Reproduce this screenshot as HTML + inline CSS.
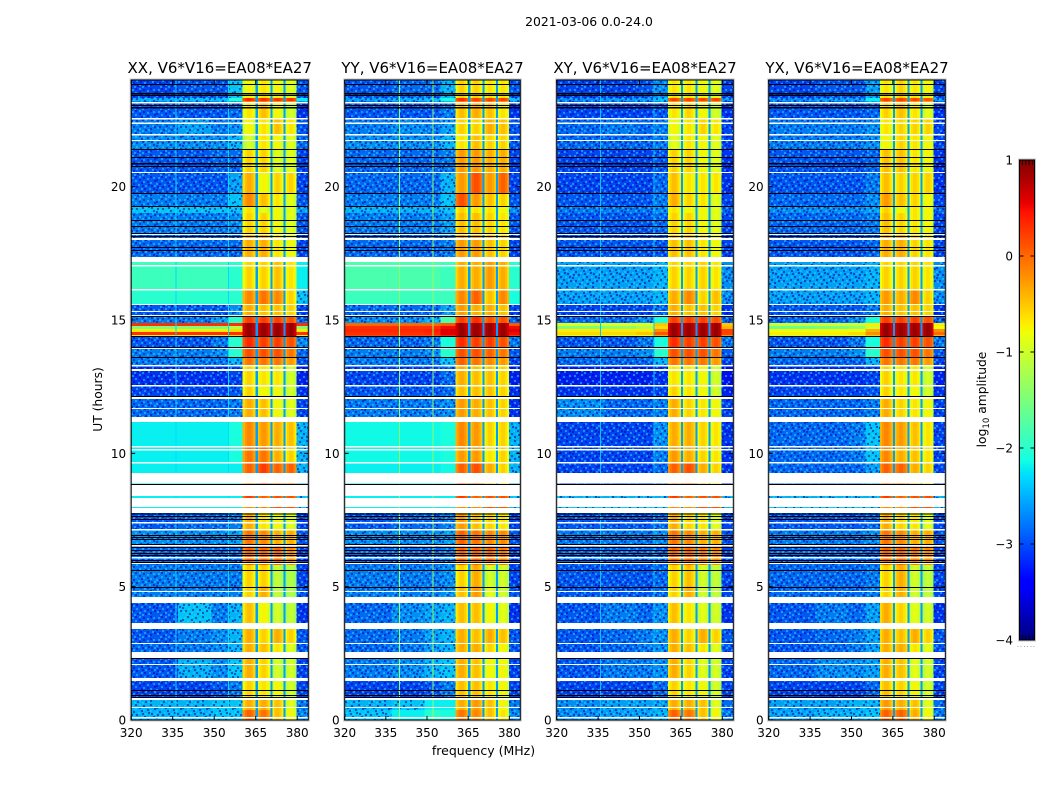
<!DOCTYPE html>
<html lang="en">
<head>
<meta charset="utf-8">
<title>2021-03-06 0.0-24.0</title>
<style>
html,body{margin:0;padding:0;background:#fff;width:1050px;height:800px;overflow:hidden}
svg{display:block}
text{font-family:"DejaVu Sans","Liberation Sans",sans-serif;fill:#000}
</style>
</head>
<body>
<svg id="figure" xmlns="http://www.w3.org/2000/svg" width="1050" height="800" viewBox="0 0 1050 800">
  <defs>
    <pattern id="noise-tile" patternUnits="userSpaceOnUse" width="26" height="22">
      <rect x="0" y="0" width="26" height="22" fill="#000078" fill-opacity="0.1"/>
      <path fill="#28d2ff" fill-opacity="0.55" d="M2 1h2v2h-2z M9 0h2v2h-2z M17 2h2v2h-2z M23 1h2v2h-2z M5 4h2v2h-2z M13 5h2v2h-2z M20 6h2v2h-2z M0 7h2v2h-2z M8 8h2v2h-2z M15 9h2v2h-2z M24 9h2v2h-2z M3 11h2v2h-2z M11 12h2v2h-2z M19 12h2v2h-2z M6 14h2v2h-2z M22 15h2v2h-2z M14 16h2v2h-2z M1 17h2v2h-2z M9 18h2v2h-2z M18 19h2v2h-2z M4 20h2v2h-2z M12 20h2v2h-2z"/>
      <path fill="#0000be" fill-opacity="0.55" d="M5 0h2v2h-2z M13 1h2v2h-2z M20 0h2v2h-2z M0 3h2v2h-2z M9 3h2v2h-2z M17 5h2v2h-2z M24 4h2v2h-2z M3 7h2v2h-2z M11 6h2v2h-2z M21 9h2v2h-2z M6 10h2v2h-2z M14 12h2v2h-2z M0 13h2v2h-2z M23 12h2v2h-2z M10 15h2v2h-2z M17 15h2v2h-2z M3 16h2v2h-2z M20 18h2v2h-2z M7 19h2v2h-2z M15 19h2v2h-2z M24 16h2v2h-2z M12 9h2v2h-2z M1 10h2v2h-2z M18 8h2v2h-2z"/>
    </pattern>
  </defs>
  <rect x="0" y="0" width="1050" height="800" fill="#fff"/>
  <text x="589" y="26" font-size="12.4" text-anchor="middle">2021-03-06 0.0-24.0</text>
  <text x="483.5" y="755" font-size="12.5" text-anchor="middle">frequency (MHz)</text>
  <text x="0" y="0" font-size="12.3" text-anchor="middle" transform="translate(102,399.5) rotate(-90)">UT (hours)</text>
  <text x="0" y="0" font-size="12.3" text-anchor="middle" transform="translate(986,399.5) rotate(-90)">log<tspan font-size="8.6" dy="3">10</tspan><tspan dy="-3"> amplitude</tspan></text>
  <g id="panels"></g>
  <g id="colorbar"></g>
</svg>
<script>
// Time band edges in UT hours, top to bottom
const bandEdges = [24,23.32,23.2,22.57,21.97,21.41,20.55,19.76,19.27,19.01,18.26,17.17,16.16,15.6,15.15,14.88,14.77,14.66,14.55,14.44,14.36,13.99,13.61,13.31,12.56,12.11,11.17,10.27,9.67,8.4,7.99,7.76,7.12,6.56,5.81,5.02,4.39,3.64,2.89,2.32,1.57,0.75,0.37,0];

// Frequency regions in MHz
const lowEdges = [320,337,349,355,360.3];
const windowEdges = [[360.3,365],[365.6,370.3],[370.8,375.1],[375.6,379.8]];
const highEdges = [379.8,384];
const gapEdges = [[365,365.6],[370.3,370.8],[375.1,375.6]];

// Band-pass shape across a spectral window (log10 offset per channel)
const windowShape = [-0.3,-0.15,-0.05,-0.05,-0.15,-0.3];

// Axis ticks and limits
const freqTicks = [320,335,350,365,380];
const timeTicks = [0,5,10,15,20];
const colorTicks = [1,0,-1,-2,-3,-4];
const colorMin = -4;
const colorMax = 1;

// Flagged time ranges, hours
const whiteBands = [[23.17,23.12],[18.26,18.19],[18.07,18.0],[17.36,17.17],[13.16,13.09],[12.13,12.04],[11.36,11.17],[9.26,8.87],[8.81,8.4],[8.32,7.99],[7.95,7.76],[4.57,4.39],[3.64,3.41],[2.55,2.32],[1.57,1.46],[0.86,0.75]];
const whiteLines = [22.57,22.4,21.97,21.75,20.55,18.75,17.06,16.16,15.6,15.34,15.19,13.95,13.31,12.56,11.7,10.27,10.16,9.67,7.42,7.16,6.56,6.11,5.89,4.84,4.61,2.89,2.1,0.49,0.11];
const blackLines = [23.85,23.51,23.45,23.06,22.98,21.41,21.11,20.88,20.77,19.76,19.27,18.75,18.52,18.26,18.15,17.74,17.62,15.15,14.4,13.99,13.61,12.15,8.85,7.74,7.65,7.54,6.94,6.86,6.79,6.6,6.49,6.37,6.26,6.19,6.0,5.92,5.62,4.99,2.32,1.12,0.94,0.86];

// Band values: 320-337, 337-349, 349-355, 355-360, window 1-4, 380-384 (log10 amplitude)
const valuesXX = [
[-3.0,-2.9,-2.9,-2.3,-.7,-.6,-.7,-.8,-2.9],
[-2.4,-2.3,-2.3,-2.0,.45,.4,.4,.4,-2.2],
[-2.9,-2.9,-2.9,-2.8,-.6,-.4,-.7,-.9,-3.1],
[-2.7,-2.5,-2.7,-2.6,-.7,-.6,-.4,-.6,-2.9],
[-2.6,-2.6,-2.6,-2.4,-.9,-.6,-.7,-.8,-2.8],
[-2.9,-2.9,-2.8,-2.8,-.5,-.5,-.8,-.8,-3.0],
[-2.9,-2.9,-2.9,-2.5,-.3,-.7,-.5,-.5,-3.0],
[-2.7,-2.7,-2.7,-2.3,-.1,-.4,-.6,-.8,-2.9],
[-2.3,-2.3,-2.3,-2.3,-.6,-.8,-.7,-.8,-2.5],
[-2.7,-2.7,-2.7,-2.6,-.5,-.5,-.7,-.8,-2.9],
[-2.8,-2.8,-2.8,-2.8,-.3,-.3,-.6,-.7,-3.0],
[-1.9,-1.9,-1.9,-2.0,-.5,-.5,-.4,-.6,-2.2],
[-2.0,-2.0,-2.0,-2.0,-.1,0,-.1,-.5,-2.3],
[-2.9,-2.9,-2.9,-2.6,-.3,-.4,-.4,-.5,-3.0],
[-2.7,-2.7,-2.5,-2.0,.3,.3,.3,.2,-2.8],
[.3,.3,.3,.3,.95,.95,.95,.95,.3],
[-1.5,-1.5,-1.5,-1.2,.95,.95,.95,.95,-1.5],
[-.7,-.7,-.7,-.6,.95,.95,.95,.95,-.7],
[.3,.3,.3,.3,.95,.95,.95,.95,.3],
[-.7,-.7,-.7,-.5,.95,.95,.95,.95,-.7],
[-2.9,-2.9,-2.7,-2.0,.4,.3,.3,.2,-2.6],
[-2.7,-2.7,-2.6,-2.0,.2,.2,.2,0,-2.8],
[-2.7,-2.7,-2.7,-2.4,0,0,0,-.2,-2.9],
[-3.1,-3.1,-3.1,-3.0,-.5,-.6,-.6,-.9,-3.2],
[-3.0,-3.0,-3.0,-2.9,-.5,-.7,-.7,-.9,-3.1],
[-2.8,-2.8,-2.8,-2.7,-.3,-.4,-.7,-.8,-3.0],
[-2.2,-2.2,-2.2,-2.1,-.1,-.2,-.3,-.4,-2.4],
[-2.2,-2.2,-2.2,-2.1,0,0,-.3,-.5,-2.4],
[-2.2,-2.2,-2.2,-2.2,.1,.3,.1,.1,-2.4],
[-2.2,-2.2,-2.2,-2.2,.3,.1,.2,.2,-2.3],
[-2.2,-2.2,-2.2,-2.2,-.1,-.1,.2,.2,-2.3],
[-2.9,-2.8,-2.8,-2.7,-.3,-.6,-.7,-.8,-3.0],
[-2.6,-2.6,-2.6,-2.5,0,-.1,-.3,-.3,-2.9],
[-2.8,-2.8,-2.8,-2.8,.1,.1,.1,-.1,-3.0],
[-2.7,-2.7,-2.7,-2.7,-.5,-.5,-1,-1.1,-3.0],
[-2.7,-2.7,-2.7,-2.7,-.5,-.3,-1,-1.1,-2.9],
[-2.9,-2.3,-2.7,-2.4,-.4,-.7,-.9,-1,-3.1],
[-2.9,-2.7,-2.6,-2.4,-.3,-.5,-.3,-.5,-2.9],
[-2.8,-2.7,-2.6,-2.4,-.3,-.4,-.6,-.8,-2.9],
[-2.9,-2.4,-2.6,-2.3,-.3,-.5,-.9,-.9,-3.0],
[-3.0,-3.0,-2.9,-2.7,-.5,-.6,-.7,-.9,-3.0],
[-2.4,-2.4,-2.3,-2.3,-.3,-.3,-.4,-.8,-2.7],
[-2.4,-2.4,-2.3,-2.3,.1,0,-.4,-.7,-2.6]
];
const valuesYY = [
[-2.9,-2.8,-2.8,-2.4,-.5,-.5,-.6,-.6,-2.9],
[-2.5,-2.4,-2.3,-2.1,.4,.3,.3,.3,-2.3],
[-2.9,-2.9,-2.9,-2.7,-.4,-.3,-.4,-.6,-3.1],
[-2.7,-2.6,-2.7,-2.5,-.5,-.5,-.3,-.4,-2.9],
[-2.6,-2.6,-2.6,-2.4,-.6,-.4,-.5,-.5,-2.9],
[-2.8,-2.8,-2.8,-2.7,-.2,-.2,-.3,-.3,-3.0],
[-2.8,-2.8,-2.8,-2.4,-.2,.2,-.2,.1,-3.0],
[-2.7,-2.7,-2.7,-2.3,.2,-.2,-.4,-.5,-2.9],
[-2.4,-2.4,-2.4,-2.3,-.5,-.6,-.6,-.7,-2.6],
[-2.7,-2.7,-2.7,-2.5,-.4,-.4,-.5,-.6,-2.9],
[-2.8,-2.8,-2.8,-2.7,-.2,-.2,-.4,-.5,-3.0],
[-1.8,-1.8,-1.8,-1.9,-.3,-.3,-.2,-.3,-2.0],
[-1.9,-1.9,-1.9,-1.9,-.1,.1,-.4,-.1,-2.1],
[-2.8,-2.8,-2.8,-2.5,-.2,-.3,-.3,-.4,-3.0],
[-2.6,-2.6,-2.4,-1.8,.3,.4,.2,.2,-2.8],
[0,0,0,.1,.95,.95,.95,.95,.1],
[.3,.3,.3,.5,.95,.95,.95,.95,.5],
[.35,.35,.4,.6,.95,.95,.95,.95,.6],
[.3,.3,.35,.6,.95,.95,.95,.95,.5],
[.2,.2,.2,.4,.95,.95,.95,.95,.3],
[-2.8,-2.8,-2.7,-2.1,.4,.3,.3,.2,-2.7],
[-2.7,-2.7,-2.6,-2.0,.2,.2,.1,0,-2.9],
[-2.7,-2.7,-2.7,-2.3,.1,0,-.1,-.2,-3.0],
[-3.0,-3.0,-3.0,-2.8,-.3,-.4,-.4,-.5,-3.2],
[-2.9,-2.9,-2.9,-2.8,-.4,-.4,-.4,-.5,-3.1],
[-2.7,-2.7,-2.7,-2.6,-.2,-.3,-.4,-.5,-3.1],
[-2.15,-2.15,-2.15,-2.1,-.1,-.2,-.5,-.5,-2.4],
[-2.15,-2.15,-2.15,-2.1,-.2,-.2,-.6,-.5,-2.4],
[-2.2,-2.2,-2.2,-2.15,.1,.2,-.3,-.5,-2.4],
[-2.2,-2.2,-2.2,-2.2,.3,.1,.2,.2,-2.3],
[-2.2,-2.2,-2.2,-2.2,-.1,-.1,.2,.2,-2.3],
[-2.9,-2.8,-2.8,-2.7,-.2,-.4,-.5,-.6,-3.0],
[-2.6,-2.6,-2.6,-2.5,.1,0,-.1,-.1,-2.9],
[-2.8,-2.8,-2.8,-2.7,.1,.1,.1,0,-3.0],
[-2.7,-2.7,-2.7,-2.6,-.5,-.3,-.9,-.9,-3.0],
[-2.7,-2.7,-2.7,-2.6,-.4,-.2,-.8,-.9,-2.9],
[-2.8,-2.6,-2.5,-2.4,-.4,-.4,-.7,-.8,-3.1],
[-2.8,-2.7,-2.5,-2.4,-.3,-.4,-.3,-.4,-2.9],
[-2.8,-2.7,-2.5,-2.4,-.3,-.3,-.5,-.7,-2.9],
[-2.7,-2.6,-2.4,-2.3,-.3,-.4,-.7,-.7,-3.0],
[-3.0,-3.0,-2.9,-2.7,-.4,-.4,-.6,-.7,-3.0],
[-2.4,-2.3,-2.2,-2.2,-.3,-.2,-.4,-.7,-2.7],
[-2.3,-2.2,-2.0,-2.1,.0,-.1,-.4,-.6,-2.6]
];
const valuesXY = [
[-3.0,-3.0,-2.9,-2.6,-.6,-.6,-.7,-.8,-3.0],
[-2.6,-2.5,-2.5,-2.3,.3,.3,.3,.3,-2.5],
[-3.0,-3.0,-3.0,-2.9,-.6,-.5,-.7,-.9,-3.1],
[-2.8,-2.7,-2.8,-2.7,-.7,-.6,-.5,-.6,-3.0],
[-2.8,-2.8,-2.8,-2.7,-.8,-.6,-.7,-.8,-3.0],
[-3.0,-3.0,-3.0,-2.9,-.5,-.5,-.7,-.8,-3.1],
[-3.0,-3.0,-3.0,-2.8,-.4,-.6,-.6,-.6,-3.1],
[-2.9,-2.9,-2.9,-2.7,-.3,-.5,-.6,-.8,-3.0],
[-2.7,-2.7,-2.7,-2.6,-.6,-.7,-.7,-.8,-2.8],
[-2.9,-2.9,-2.9,-2.8,-.5,-.5,-.7,-.8,-3.0],
[-2.9,-2.9,-2.9,-2.9,-.4,-.4,-.6,-.7,-3.0],
[-2.5,-2.5,-2.5,-2.4,-.5,-.5,-.5,-.6,-2.6],
[-2.5,-2.5,-2.5,-2.4,-.3,-.1,-.5,-.4,-2.6],
[-3.0,-3.0,-3.0,-2.8,-.3,-.4,-.4,-.5,-3.1],
[-2.8,-2.8,-2.6,-2.1,.3,.3,.3,.2,-2.8],
[-.9,-.9,-.9,-.5,.95,.95,.95,.95,-.5],
[-1.5,-1.4,-1.2,-.6,.95,.95,.95,.95,-.4],
[-.7,-.7,-.7,-.2,.95,.95,.95,.95,.2],
[-.6,-.6,-.5,.1,.95,.95,.95,.95,.2],
[-.9,-.9,-.8,-.3,.95,.95,.95,.95,-.2],
[-2.9,-2.9,-2.7,-2.1,.4,.3,.3,.2,-2.7],
[-2.7,-2.7,-2.6,-2.0,.2,.2,.2,0,-2.9],
[-2.8,-2.8,-2.8,-2.4,0,0,0,-.2,-3.0],
[-3.2,-3.2,-3.2,-3.1,-.6,-.6,-.7,-.9,-3.3],
[-3.1,-3.1,-3.1,-3.0,-.5,-.6,-.7,-.9,-3.2],
[-2.6,-2.8,-2.8,-2.7,-.3,-.5,-.6,-.7,-3.0],
[-3.0,-3.0,-3.0,-2.6,-.3,-.3,-.5,-.6,-3.1],
[-3.0,-3.0,-3.0,-2.7,-.2,-.3,-.5,-.6,-3.1],
[-3.0,-3.0,-3.0,-2.8,.1,.2,-.3,-.5,-3.1],
[-2.4,-2.4,-2.4,-2.4,.3,.1,.2,.2,-2.4],
[-2.3,-2.3,-2.3,-2.3,-.1,-.1,.2,.2,-2.4],
[-2.9,-2.9,-2.9,-2.8,-.3,-.5,-.6,-.8,-3.0],
[-2.7,-2.7,-2.7,-2.6,0,-.1,-.3,-.3,-2.9],
[-2.8,-2.8,-2.8,-2.8,.1,.1,0,-.1,-3.0],
[-2.9,-2.9,-2.9,-2.8,-.5,-.4,-.9,-1,-3.0],
[-2.9,-2.9,-2.9,-2.8,-.5,-.3,-.9,-1,-3.0],
[-2.9,-2.7,-2.8,-2.6,-.4,-.6,-.8,-.9,-3.1],
[-2.9,-2.8,-2.7,-2.6,-.3,-.5,-.3,-.5,-2.9],
[-2.9,-2.8,-2.7,-2.6,-.3,-.4,-.6,-.8,-2.9],
[-2.9,-2.7,-2.7,-2.6,-.3,-.5,-.8,-.9,-3.0],
[-3.0,-3.0,-3.0,-2.8,-.5,-.6,-.7,-.9,-3.0],
[-2.6,-2.5,-2.5,-2.5,-.3,-.3,-.4,-.8,-2.8],
[-2.6,-2.5,-2.5,-2.4,.1,0,-.4,-.7,-2.7]
];
const valuesYX = [
[-3.0,-2.9,-2.9,-2.5,-.6,-.5,-.6,-.7,-3.0],
[-2.6,-2.5,-2.5,-2.2,.3,.3,.3,.2,-2.5],
[-2.9,-2.9,-2.9,-2.8,-.5,-.4,-.6,-.8,-3.1],
[-2.7,-2.7,-2.7,-2.6,-.6,-.5,-.5,-.5,-3.0],
[-2.7,-2.7,-2.7,-2.6,-.7,-.5,-.6,-.7,-3.0],
[-2.9,-2.9,-2.9,-2.8,-.4,-.4,-.6,-.7,-3.1],
[-2.9,-2.9,-2.9,-2.7,-.4,-.5,-.5,-.5,-3.1],
[-2.8,-2.8,-2.8,-2.6,-.2,-.4,-.5,-.7,-3.0],
[-2.6,-2.6,-2.6,-2.5,-.5,-.7,-.6,-.7,-2.8],
[-2.8,-2.8,-2.8,-2.7,-.4,-.5,-.6,-.7,-3.0],
[-2.9,-2.9,-2.9,-2.8,-.3,-.3,-.5,-.6,-3.0],
[-2.5,-2.5,-2.5,-2.4,-.5,-.5,-.5,-.6,-2.6],
[-2.5,-2.5,-2.5,-2.4,-.2,-.3,-.1,-.5,-2.6],
[-2.9,-2.9,-2.9,-2.7,-.3,-.4,-.4,-.5,-3.1],
[-2.8,-2.8,-2.6,-2.1,.3,.3,.3,.2,-2.8],
[-1.0,-1.0,-1.0,-.7,.95,.95,.95,.95,-.7],
[-1.6,-1.5,-1.4,-1.0,.95,.95,.95,.95,-.8],
[-.8,-.8,-.8,-.4,.95,.95,.95,.95,-.2],
[-.7,-.7,-.6,-.2,.95,.95,.95,.95,0],
[-1.0,-1.0,-.9,-.5,.95,.95,.95,.95,-.4],
[-2.9,-2.9,-2.7,-2.1,.4,.3,.3,.2,-2.7],
[-2.7,-2.7,-2.6,-2.0,.2,.2,.2,0,-2.9],
[-2.8,-2.8,-2.8,-2.4,0,0,0,-.2,-3.0],
[-3.1,-3.1,-3.1,-3.0,-.5,-.6,-.6,-.9,-3.2],
[-3.0,-3.0,-3.0,-2.9,-.5,-.6,-.7,-.9,-3.1],
[-2.8,-2.8,-2.8,-2.7,-.3,-.5,-.6,-.7,-3.0],
[-2.8,-2.8,-2.7,-2.3,-.1,-.2,-.4,-.6,-3.0],
[-2.8,-2.8,-2.7,-2.3,-.1,-.3,-.4,-.6,-3.0],
[-2.8,-2.8,-2.8,-2.5,.1,.1,-.3,-.5,-3.0],
[-2.4,-2.4,-2.4,-2.4,.3,.1,.2,.2,-2.4],
[-2.3,-2.3,-2.3,-2.3,-.1,-.1,.2,.2,-2.4],
[-2.9,-2.9,-2.9,-2.8,-.3,-.5,-.6,-.8,-3.0],
[-2.7,-2.7,-2.7,-2.6,0,-.1,-.3,-.3,-2.9],
[-2.8,-2.8,-2.8,-2.8,.1,.1,0,-.1,-3.0],
[-2.8,-2.8,-2.8,-2.7,-.5,-.3,-.9,-1,-3.0],
[-2.8,-2.8,-2.8,-2.7,-.5,-.3,-.9,-1,-3.0],
[-2.9,-2.7,-2.8,-2.5,-.3,-.5,-.8,-.9,-3.1],
[-2.9,-2.8,-2.7,-2.5,-.3,-.4,-.3,-.5,-2.9],
[-2.9,-2.8,-2.7,-2.5,-.3,-.3,-.6,-.8,-2.9],
[-2.8,-2.6,-2.6,-2.5,-.3,-.4,-.8,-.9,-3.0],
[-3.0,-3.0,-3.0,-2.8,-.4,-.5,-.7,-.9,-3.0],
[-2.5,-2.5,-2.4,-2.4,-.2,-.3,-.4,-.8,-2.8],
[-2.5,-2.4,-2.4,-2.3,.1,.1,-.3,-.7,-2.7]
];

// Steady interference channels (MHz) and their levels
const rfiFreqXX = [336,355];
const rfiFreqYY = [339.8,352];
const rfiFreqXY = [335.7,355];
const rfiFreqYX = [];
const rfiLevelXX = -2.3;
const rfiLevelYY = -1.4;
const rfiLevelXY = -2.4;
const rfiLevelYX = -2.4;
const gapLevel = -2.6;
const noiseFloorLimit = -2.25;

const panelNames = ['XX','YY','XY','YX'];
const panelValues = [valuesXX,valuesYY,valuesXY,valuesYX];
const panelRfi = [rfiFreqXX,rfiFreqYY,rfiFreqXY,rfiFreqYX];
const panelRfiLevel = [rfiLevelXX,rfiLevelYY,rfiLevelXY,rfiLevelYX];

const NS = 'http://www.w3.org/2000/svg';
const plotTop = 80, plotBottom = 720;
const frames = [[131.2,308.3],[344.7,520.3],[556.7,733.3],[768.7,945.3]];

function yScale(h){ return plotBottom - h/24*(plotBottom-plotTop); }
function makeXScale(x0,x1){ return function(f){ return x0 + (f-320)/64*(x1-x0); }; }

// jet colormap
const jetR = [[0,0],[.35,0],[.66,1],[.89,1],[1,.5]];
const jetG = [[0,0],[.125,0],[.375,1],[.64,1],[.91,0],[1,0]];
const jetB = [[0,.5],[.11,1],[.34,1],[.65,0],[1,0]];
function ramp(a,t){
  for(let i=1;i<a.length;i++){
    if(t<=a[i][0]){
      const u=(t-a[i-1][0])/(a[i][0]-a[i-1][0]);
      return a[i-1][1]+u*(a[i][1]-a[i-1][1]);
    }
  }
  return a[a.length-1][1];
}
function colorOf(v){
  const t=Math.max(0,Math.min(1,(v-colorMin)/(colorMax-colorMin)));
  return 'rgb('+Math.round(255*ramp(jetR,t))+','+Math.round(255*ramp(jetG,t))+','+Math.round(255*ramp(jetB,t))+')';
}

function addRect(parent,x,y,w,h,fill){
  const r=document.createElementNS(NS,'rect');
  r.setAttribute('x',x.toFixed(2));
  r.setAttribute('y',y.toFixed(2));
  r.setAttribute('width',w.toFixed(2));
  r.setAttribute('height',h.toFixed(2));
  r.setAttribute('fill',fill);
  r.setAttribute('shape-rendering','crispEdges');
  parent.appendChild(r);
  return r;
}
function addLine(parent,x1,y1,x2,y2,stroke,width){
  const l=document.createElementNS(NS,'line');
  l.setAttribute('x1',x1);
  l.setAttribute('y1',y1);
  l.setAttribute('x2',x2);
  l.setAttribute('y2',y2);
  l.setAttribute('stroke',stroke);
  l.setAttribute('stroke-width',width);
  parent.appendChild(l);
  return l;
}
function addText(parent,x,y,str,size,anchor){
  const t=document.createElementNS(NS,'text');
  t.setAttribute('x',x);
  t.setAttribute('y',y);
  t.setAttribute('font-size',size);
  t.setAttribute('text-anchor',anchor);
  t.textContent=str;
  parent.appendChild(t);
  return t;
}
function addNoise(parent,x,y,w,h){
  const n=addRect(parent,x,y,w,h,'url(#noise-tile)');
  
  
}

const panelsRoot=document.getElementById('panels');
panelNames.forEach(function(name,p){
  const x0=frames[p][0], x1=frames[p][1];
  const xs=makeXScale(x0,x1);
  const values=panelValues[p];
  const g=document.createElementNS(NS,'g');
  
  
  panelsRoot.appendChild(g);

  // heatmap cells
  values.forEach(function(row,b){
    const yT=yScale(bandEdges[b]), yB=yScale(bandEdges[b+1]);
    for(let c=0;c<4;c++){
      const a=xs(lowEdges[c]), e=xs(lowEdges[c+1]);
      const cell=addRect(g,a,yT,e-a+.5,yB-yT+.5,colorOf(row[c]));
      
      
      if(row[c]<noiseFloorLimit){ addNoise(g,a,yT,e-a,yB-yT); }
    }
    windowEdges.forEach(function(w,k){
      const step=(w[1]-w[0])/windowShape.length;
      windowShape.forEach(function(off,ch){
        const a=xs(w[0]+ch*step), e=xs(w[0]+(ch+1)*step);
        const cell=addRect(g,a,yT,e-a+.5,yB-yT+.5,colorOf(row[4+k]+off));
        
        
      });
    });
    gapEdges.forEach(function(w){
      const a=xs(w[0]), e=xs(w[1]);
      const cell=addRect(g,a,yT,e-a+.5,yB-yT+.5,colorOf(gapLevel));
      
      
    });
    const a=xs(highEdges[0]), e=xs(highEdges[1]);
    const cell=addRect(g,a,yT,e-a,yB-yT+.5,colorOf(row[8]));
    
    
    if(row[8]<noiseFloorLimit){ addNoise(g,a,yT,e-a,yB-yT); }
  });

  // interference channels
  panelRfi[p].forEach(function(f){
    const r=addRect(g,xs(f),plotTop,1,plotBottom-plotTop,colorOf(panelRfiLevel[p]));
    
    
  });

  // flagged data
  whiteBands.forEach(function(w){
    const r=addRect(g,x0,yScale(w[0]),x1-x0,yScale(w[1])-yScale(w[0]),'#fff');
    
    
  });
  whiteLines.forEach(function(h){
    const r=addRect(g,x0,yScale(h),x1-x0,1.2,'#fff');
    
    
  });
  blackLines.forEach(function(h){
    const r=addRect(g,x0,yScale(h),x1-x0,1.1,'#000');
    
    
  });

  // frame
  const halo=document.createElementNS(NS,'rect');
  halo.setAttribute('x',x0-1);
  halo.setAttribute('y',plotTop-1);
  halo.setAttribute('width',x1-x0+2);
  halo.setAttribute('height',plotBottom-plotTop+2);
  halo.setAttribute('fill','none');
  halo.setAttribute('stroke','#c4c4c4');
  halo.setAttribute('stroke-width','1');
  
  
  g.appendChild(halo);
  const frame=document.createElementNS(NS,'rect');
  frame.setAttribute('x',x0);
  frame.setAttribute('y',plotTop);
  frame.setAttribute('width',x1-x0);
  frame.setAttribute('height',plotBottom-plotTop);
  frame.setAttribute('fill','none');
  frame.setAttribute('stroke','#000');
  frame.setAttribute('stroke-width','1');
  
  
  g.appendChild(frame);

  // ticks and labels
  freqTicks.forEach(function(f){
    const x=xs(f);
    const t1=addLine(g,x,plotBottom,x,plotBottom-4,'#000',1);
    
    
    const t2=addLine(g,x,plotTop,x,plotTop+4,'#000',1);
    
    
    const lab=addText(g,x,737,String(f),12,'middle');
    
    
  });
  timeTicks.forEach(function(h){
    const y=yScale(h);
    const t1=addLine(g,x0,y,x0+4,y,'#000',1);
    
    
    const t2=addLine(g,x1,y,x1-4,y,'#000',1);
    
    
    const lab=addText(g,x0-5,y+4.5,String(h),12,'end');
    
    
  });
  const title=addText(g,(x0+x1)/2,73,name+', V6*V16=EA08*EA27',15,'middle');
  
  
});

// colorbar
const cb=document.getElementById('colorbar');
const cbX0=1019.5, cbX1=1034.5, cbTop=160, cbBottom=640;
function cbY(v){ return cbBottom-(v-colorMin)/(colorMax-colorMin)*(cbBottom-cbTop); }
for(let y=cbTop;y<cbBottom;y++){
  const r=addRect(cb,cbX0,y,cbX1-cbX0,1,colorOf(colorMax-(y+.5-cbTop)/(cbBottom-cbTop)*(colorMax-colorMin)));
  
  
}
const cbHalo=document.createElementNS(NS,'rect');
cbHalo.setAttribute('x',cbX0-1);
cbHalo.setAttribute('y',cbTop-1);
cbHalo.setAttribute('width',cbX1-cbX0+2);
cbHalo.setAttribute('height',cbBottom-cbTop+2);
cbHalo.setAttribute('fill','none');
cbHalo.setAttribute('stroke','#c4c4c4');


cb.appendChild(cbHalo);
const cbFrame=document.createElementNS(NS,'rect');
cbFrame.setAttribute('x',cbX0);
cbFrame.setAttribute('y',cbTop);
cbFrame.setAttribute('width',cbX1-cbX0);
cbFrame.setAttribute('height',cbBottom-cbTop);
cbFrame.setAttribute('fill','none');
cbFrame.setAttribute('stroke','#000');


cb.appendChild(cbFrame);
colorTicks.forEach(function(v){
  const y=cbY(v);
  const lab=addText(cb,1013,y+4.5,(v<0?'\u2212':'')+Math.abs(v),12,'end');
  
  
  const t1=addLine(cb,cbX0,y,cbX0+4,y,'#000',1);
  
  
  const t2=addLine(cb,cbX1,y,cbX1-4,y,'#000',1);
  
  
});
for(let i=0;i<4;i++){
  const x=1022.5+i*3.3;
  const t1=addLine(cb,x,cbTop,x,cbTop+5,'#000',.8);
  
  
  const t2=addLine(cb,x,cbBottom,x,cbBottom-5,'#000',.8);
  
  
}
for(let i=0;i<6;i++){
  const d=addRect(cb,1017.5+i*3.2,646,1,1,'#aaa');
  
  
}
</script>
</body>
</html>
